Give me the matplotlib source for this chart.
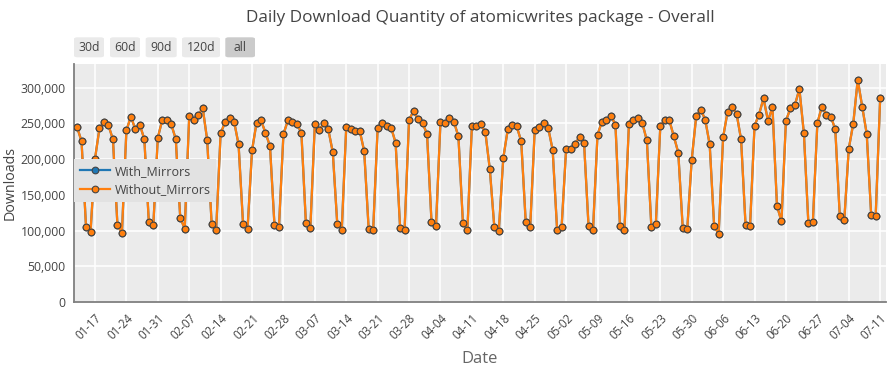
import matplotlib
matplotlib.use("Agg")
import matplotlib.pyplot as plt
import matplotlib.dates as mdates
from matplotlib.patches import FancyBboxPatch
from matplotlib.ticker import FuncFormatter
import numpy as np
import pandas as pd

plt.rcParams['font.family'] = ['Open Sans', 'DejaVu Sans']

title = "Daily Download Quantity of atomicwrites package - Overall"
start_date = "2021-01-13"

# daily downloads (thousands), month by month
jan = [244.6, 225, 105, 97.5, 200.6, 243, 251.5, 247, 227.5, 107.7, 97, 240, 259.5,
       241.4, 248, 227.5, 111.4, 107.7, 229.8]
feb = [255, 255, 248.4, 228, 117.8, 102.5, 260, 255.3, 261, 271.6,
       227, 109, 100.3, 236, 251.5, 257.7, 252.5, 220.5, 109, 102,
       212, 250.7, 254, 236.8, 218, 107.7, 104.5, 235]
mar = [254, 251.5, 249, 236.8, 111, 103.5, 249, 240, 250.7, 241.4,
       209.4, 109, 100.7, 245, 241.4, 239, 239.6, 211, 101.7, 100.7,
       243.8, 250.7, 245.6, 243.8, 222.9, 104, 101, 255, 267, 255.8, 250]
apr = [235.4, 112.3, 106.3, 252.5, 251, 257.7, 252, 231.7, 111, 100.7,
       245.6, 246.6, 248.4, 237.7, 185.7, 104.9, 99.3, 201.4, 241.4, 248,
       245.6, 224.7, 111.9, 104.9, 240, 244.2, 250.7, 243.8, 213, 100.7]
may = [104.9, 213.5, 214.5, 221.5, 230.7, 222.9, 106.3, 100.7, 234, 252.5,
       255, 260.5, 248, 106.7, 100.7, 248.4, 255, 257.2, 250, 226,
       105.3, 108.7, 246.6, 254.4, 254.4, 232, 209, 103, 102, 199.2, 260]
jun = [269.3, 255.3, 220.5, 105.9, 95.6, 230.7, 266.5, 272.5, 263.3, 227.5,
       107.3, 106.3, 246.6, 262.3, 285, 253.5, 272.5, 134.6, 112.8, 253.5,
       271, 275.8, 298, 235.8, 110, 111.9, 250, 273.4, 262.3, 259.5]
jul = [241.4, 119.8, 114.2, 214.5, 249.4, 311, 273, 235.4, 121.2, 120.2, 285]

without_mirrors = [v * 1000 for v in jan + feb + mar + apr + may + jun + jul]
with_mirrors = list(without_mirrors)
dates = pd.date_range(start_date, periods=len(without_mirrors), freq="D")

series_names = ["With_Mirrors", "Without_Mirrors"]
buttons = ["30d", "60d", "90d", "120d", "all"]
y_ticks = [0, 50000, 100000, 150000, 200000, 250000, 300000]

W, H = 892, 372
fig = plt.figure(figsize=(W / 100, H / 100), dpi=100)
fig.patch.set_facecolor("white")

ax_l, ax_r, ax_t, ax_b = 74, 886, 64, 302
ax = fig.add_axes([ax_l / W, 1 - ax_b / H, (ax_r - ax_l) / W, (ax_b - ax_t) / H])
ax.set_facecolor("#EBEBEB")

ax.plot(dates, with_mirrors, color="#1F77B4", lw=1.6, marker="o", ms=4.8,
        mfc="#1F77B4", mec="#444444", mew=0.8, label=series_names[0], zorder=3)
ax.plot(dates, without_mirrors, color="#FF7F0E", lw=1.6, marker="o", ms=4.8,
        mfc="#FF7F0E", mec="#444444", mew=0.8, label=series_names[1], zorder=4)

ref = pd.Timestamp("2021-01-17")
x0 = mdates.date2num(ref - pd.Timedelta(days=4.68))
x1 = mdates.date2num(ref + pd.Timedelta(days=176.3))
ax.set_xlim(x0, x1)
ax.set_ylim(0, 333000)

xt = pd.date_range("2021-01-17", "2021-07-11", freq="7D")
ax.set_xticks(mdates.date2num(xt))
ax.xaxis.set_major_formatter(mdates.DateFormatter("%m-%d"))
ax.set_yticks(y_ticks)
ax.yaxis.set_major_formatter(FuncFormatter(lambda v, p: f"{int(v):,}"))

ax.grid(True, color="white", lw=1.1)
ax.set_axisbelow(True)
ax.tick_params(axis="both", length=0, colors="#444444", labelsize=8.8)
ax.tick_params(axis="y", pad=6)
ax.tick_params(axis="x", pad=7)
for lbl in ax.get_xticklabels():
    lbl.set_rotation(45)
    lbl.set_ha("right")
    lbl.set_rotation_mode("anchor")
    lbl.set_fontsize(8.3)

for s in ["top", "right"]:
    ax.spines[s].set_visible(False)
for s in ["left", "bottom"]:
    ax.spines[s].set_color("#7F7F7F")
    ax.spines[s].set_linewidth(1.3)

ax.set_xlabel("Date", fontsize=12, color="#666666", labelpad=6)
ax.set_ylabel("Downloads", fontsize=10.3, color="#444444")
ax.yaxis.set_label_coords((18 - ax_l) / (ax_r - ax_l), 0.5)

leg = ax.legend(loc="upper left", bbox_to_anchor=(0.0, (ax_b - 159) / (ax_b - ax_t)),
                borderaxespad=0, frameon=True, fancybox=False, framealpha=1,
                facecolor="#E2E2E2", edgecolor="none", fontsize=9,
                handlelength=2.4, handletextpad=0.4, labelspacing=0.45,
                borderpad=0.45)
for t in leg.get_texts():
    t.set_color("#444444")

fig.text((ax_l + ax_r) / 2 / W, 1 - 18 / H, title, ha="center", va="center",
         fontsize=12.3, color="#444444")

# range selector buttons
btn_boxes = [(74, 104), (110, 140), (145.7, 176.7), (182, 220), (225.3, 255)]
by0, by1 = 37.3, 57.3
for name, (bx0, bx1) in zip(buttons, btn_boxes):
    fc = "#CBCBCB" if name == "all" else "#EAEAEA"
    p = FancyBboxPatch((bx0 / W, 1 - by1 / H), (bx1 - bx0) / W, (by1 - by0) / H,
                       boxstyle="round,pad=0,rounding_size=0.004",
                       transform=fig.transFigure, facecolor=fc, edgecolor="none")
    fig.patches.append(p)
    fig.text((bx0 + bx1) / 2 / W, 1 - (by0 + by1) / 2 / H, name, ha="center",
             va="center", fontsize=8.8, color="#444444")

fig.savefig("out.png", dpi=100)
